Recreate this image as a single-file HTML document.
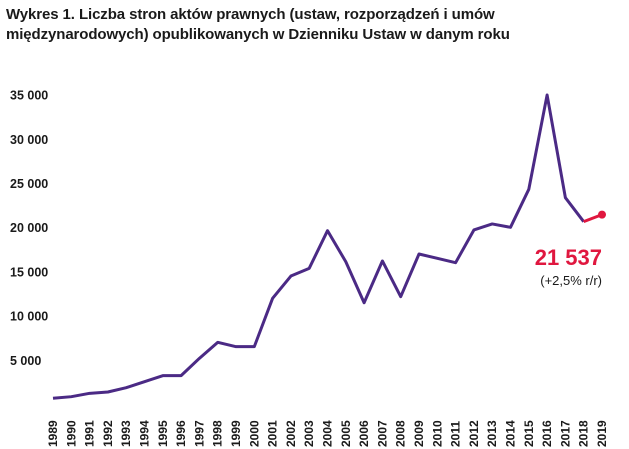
<!DOCTYPE html>
<html><head><meta charset="utf-8"><style>
body{margin:0;background:#fff;width:629px;height:449px;overflow:hidden;font-family:"Liberation Sans",sans-serif}
#title{position:absolute;left:6px;top:5px;font-size:15px;font-weight:bold;color:#1a1a1a;line-height:20px;letter-spacing:-0.1px}
</style></head><body>
<div id="title">Wykres 1. Liczba stron aktów prawnych (ustaw, rozporządzeń i umów<br>międzynarodowych) opublikowanych w Dzienniku Ustaw w danym roku</div>
<svg id="chart" width="629" height="449" style="position:absolute;left:0;top:0"></svg>
<script>
const years=[1989,1990,1991,1992,1993,1994,1995,1996,1997,1998,1999,2000,2001,2002,2003,2004,2005,2006,2007,2008,2009,2010,2011,2012,2013,2014,2015,2016,2017,2018,2019];
const pages=[760,940,1320,1470,1960,2640,3320,3320,5280,7090,6600,6600,12070,14590,15460,19720,16210,11570,16290,12250,17080,16590,16100,19800,20480,20100,24400,35070,23450,20740,21537];
const yTicks=[5000,10000,15000,20000,25000,30000,35000];
const yTickLabels=["5 000","10 000","15 000","20 000","25 000","30 000","35 000"];
const NS="http://www.w3.org/2000/svg";
const svg=document.getElementById('chart');
const x=i=>53+i*18.3;
const y=v=>405-v*(44.2/5000);
function mk(t,a){const e=document.createElementNS(NS,t);for(const k in a)e.setAttribute(k,a[k]);svg.appendChild(e);return e;}
yTicks.forEach((v,i)=>{const t=mk('text',{x:10,y:y(v)+4,'font-size':12.5,'font-weight':'bold',fill:'#1a1a1a'});


t.textContent=yTickLabels[i];});
years.forEach((yr,i)=>{const t=mk('text',{transform:`translate(${x(i)+4},447) rotate(-90)`,'font-size':12,'font-weight':'bold',fill:'#1a1a1a'});


t.textContent=yr;});
const n=pages.length;
let d='';for(let i=0;i<n-1;i++)d+=(i?'L':'M')+x(i)+','+y(pages[i]);
const line=mk('path',{d,fill:'none',stroke:'#4b2a85','stroke-width':3,'stroke-linejoin':'round'});


const last=mk('path',{d:`M${x(n-2)},${y(pages[n-2])}L${x(n-1)},${y(pages[n-1])}`,stroke:'#e0173f','stroke-width':3,fill:'none'});


const dot=mk('circle',{cx:x(n-1),cy:y(pages[n-1]),r:4,fill:'#e0173f'});


const lbl=mk('text',{x:602,y:265,'text-anchor':'end','font-size':22,'font-weight':'bold',fill:'#e0173f'});


lbl.textContent='21 537';
const sub=mk('text',{x:602,y:285,'text-anchor':'end','font-size':13,fill:'#1a1a1a'});


sub.textContent='(+2,5% r/r)';
</script>
</body></html>
